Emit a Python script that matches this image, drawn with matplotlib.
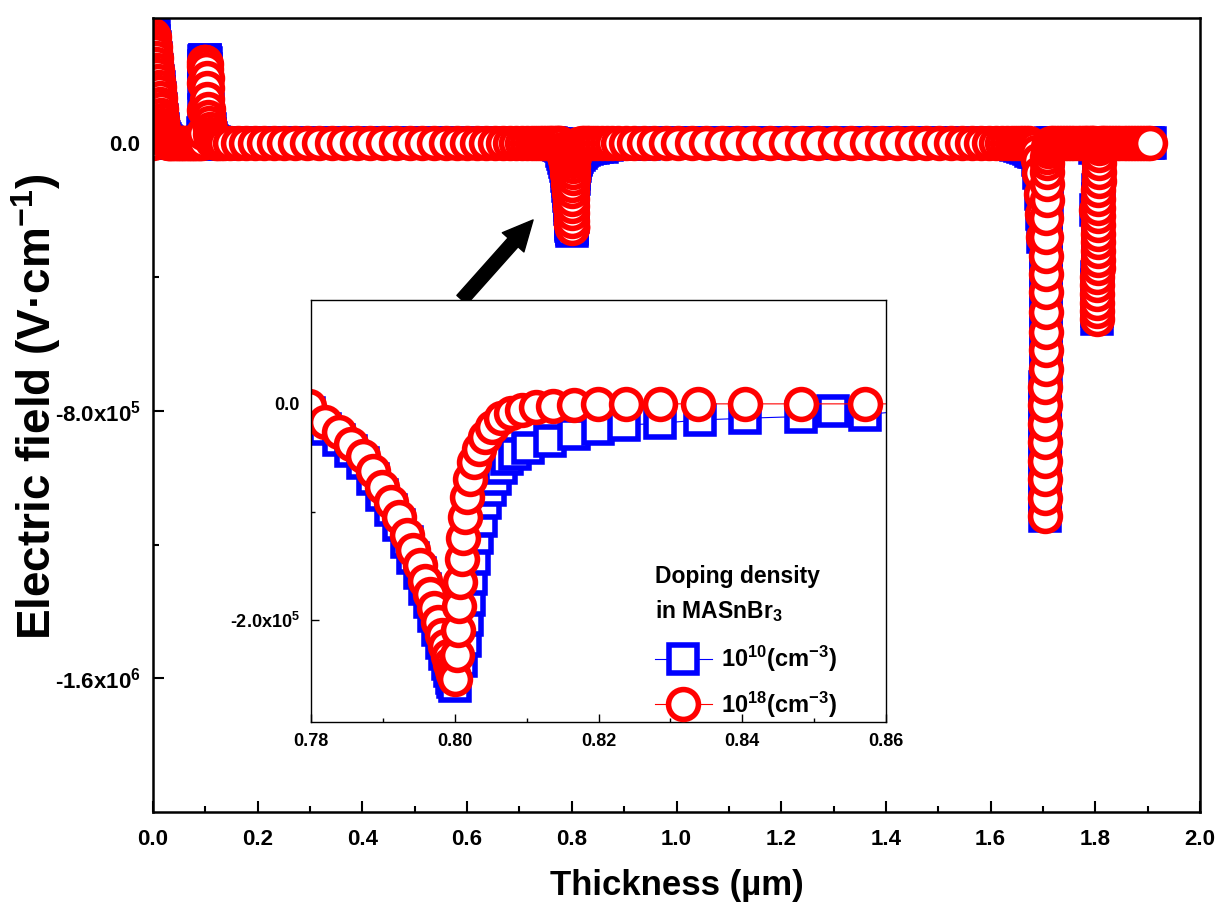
import matplotlib
matplotlib.use('Agg')
import matplotlib.pyplot as plt
import numpy as np
from matplotlib.ticker import FixedLocator, MultipleLocator, FormatStrFormatter

plt.rcParams['font.family'] = 'Liberation Sans'
plt.rcParams['font.weight'] = 'bold'
plt.rcParams['axes.labelweight'] = 'bold'
plt.rcParams['mathtext.fontset'] = 'custom'
plt.rcParams['mathtext.rm'] = 'Liberation Sans:bold'
plt.rcParams['mathtext.bf'] = 'Liberation Sans:bold'
plt.rcParams['mathtext.it'] = 'Liberation Sans:bold'
plt.rcParams['mathtext.default'] = 'bf'

# --- data: thickness in um, field in kV/cm ---
# front contact region (0 - 0.13 um), same mesh for both dopings
x_front = [0.000, 0.0005, 0.0015, 0.0025, 0.0035, 0.0045, 0.0055, 0.0065, 0.0075, 0.0085,
           0.0095, 0.0105, 0.0115, 0.0125, 0.0135, 0.0145, 0.0155, 0.0165, 0.0175, 0.0185,
           0.0195, 0.021, 0.0225, 0.024, 0.026, 0.028, 0.030, 0.033, 0.036, 0.039,
           0.042, 0.045, 0.048, 0.051, 0.054, 0.057, 0.060, 0.063, 0.066, 0.069,
           0.072, 0.075, 0.078, 0.081, 0.084, 0.087, 0.090, 0.093, 0.095, 0.0962,
           0.0968, 0.0972, 0.0976, 0.0982, 0.0990, 0.0998, 0.1006, 0.1014, 0.1022, 0.1030,
           0.1040, 0.1050, 0.1060, 0.1070, 0.1080, 0.1095, 0.111, 0.113, 0.116, 0.120,
           0.125, 0.130]
e_front_hi = [0, 325, 318, 304, 288, 272, 255, 238, 221, 204,
              187, 170, 153, 136, 119, 102, 86, 70, 56, 43,
              32, 20, 12, 7, 3.5, 1.5, 0.5, 0, 0, 0,
              0, 0, 0, 0, 0, 0, 0, 0, 0, 0,
              0, 0, 0, 0, 0, 0, 0, 1, 4, 30,
              100, 180, 232, 242, 244, 243, 238, 222, 196, 165,
              132, 104, 80, 60, 43, 28, 16, 8, 3, 1,
              0, 0]
e_front_lo = [0, 331, 320, 305, 288, 272, 255, 238, 221, 204,
              187, 170, 153, 136, 119, 102, 86, 70, 56, 43,
              32, 20, 12, 7, 3.5, 1.5, 0.5, 0, 0, 0,
              0, 0, 0, 0, 0, 0, 0, 0, 0, 0,
              0, 0, 0, 0, 0, 0, 0, 1, 4, 30,
              100, 180, 232, 246, 250, 249, 240, 222, 196, 165,
              132, 104, 80, 60, 43, 28, 16, 8, 3, 0,
              -2, -3]

# absorber bulk up to the 0.8 um interface
x_bulk1 = [0.136, 0.148, 0.162, 0.177, 0.194, 0.212, 0.231, 0.251, 0.272, 0.294,
           0.317, 0.341, 0.365, 0.390, 0.415, 0.440, 0.465, 0.490, 0.514, 0.537,
           0.559, 0.580, 0.600, 0.619, 0.637, 0.653, 0.668, 0.682, 0.694, 0.705,
           0.715, 0.724, 0.732, 0.739, 0.745, 0.751, 0.756, 0.761, 0.765, 0.769,
           0.772, 0.775, 0.7775]
e_bulk1_hi = [0.0] * len(x_bulk1)
e_bulk1_lo = [0, 0, 0, 0, 0, 0, 0, 0, 0, 0,
              0, 0, 0, 0, 0, 0, 0, 0, 0, 0,
              0, 0, 0, 0, 0, 0, 0, 0, 0, 0,
              0, 0, 0, 0, 0, 0, 0, 0, -1, -2,
              -3, -4, -5]

# dip at the 0.8 um interface (the inset)
x_dip_hi = [0.7797, 0.7819, 0.7839, 0.7855, 0.7872, 0.7886, 0.7899, 0.7911, 0.7922, 0.7933,
            0.7942, 0.7951, 0.7959, 0.7966, 0.7971, 0.7977, 0.7982, 0.7986, 0.7990, 0.7993,
            0.7996, 0.7998, 0.8000, 0.80028, 0.80039, 0.80055, 0.80072, 0.80094, 0.80111, 0.80139,
            0.80166, 0.80211, 0.80266, 0.80332, 0.80416, 0.80515, 0.80637, 0.80776, 0.80942, 0.81136,
            0.81368, 0.81662, 0.81994, 0.82382, 0.82853, 0.83379, 0.84044, 0.84820, 0.85706]
e_dip_hi = [-2, -16.5, -26, -37, -48, -62, -77, -91, -105, -121,
            -135, -149, -164, -176, -189, -202, -214, -224, -233, -240,
            -246, -250, -254, -232, -209, -187, -165, -143, -124, -105,
            -86, -69, -54, -42, -31, -21, -13, -8.5, -5.4, -3,
            -1.6, -0.6, 0, 0, 0, 0, 0, 0, 0]
x_dip_lo = [0.7797, 0.7819, 0.7839, 0.7855, 0.7872, 0.7886, 0.7899, 0.7911, 0.7922, 0.7933,
            0.7942, 0.7951, 0.7959, 0.7966, 0.7971, 0.7977, 0.7982, 0.7986, 0.7990, 0.7993,
            0.7996, 0.7998, 0.8000, 0.80083, 0.80139, 0.80166, 0.80194, 0.80222, 0.80266, 0.80305,
            0.80360, 0.80416, 0.80488, 0.80565, 0.80637, 0.80720, 0.80831, 0.81025, 0.81330, 0.81662,
            0.81994, 0.82354, 0.82853, 0.83407, 0.84044, 0.84820, 0.85263, 0.85706]
e_dip_lo = [-8, -23, -33, -44, -55, -69, -84, -98, -112, -128,
            -142, -156, -171, -183, -196, -209, -221, -231, -240, -247,
            -253, -257, -261, -238, -219, -200, -181, -162, -143, -124,
            -108, -92, -80, -69, -59, -51, -46.5, -41, -34, -27.5,
            -23, -19.6, -18, -14.9, -13.3, -11.7, -6.3, -10]

# bulk between 0.86 and 1.68 um
x_bulk2 = [0.8665, 0.877, 0.889, 0.903, 0.919, 0.937, 0.957, 0.979, 1.003, 1.029,
           1.057, 1.086, 1.116, 1.147, 1.178, 1.209, 1.240, 1.271, 1.302, 1.333,
           1.363, 1.393, 1.422, 1.450, 1.477, 1.502, 1.525, 1.546, 1.565, 1.582,
           1.597, 1.610, 1.622, 1.632, 1.641, 1.649, 1.656, 1.662, 1.668, 1.673,
           1.678, 1.682]
e_bulk2_hi = [0, 0, 0, 0, 0, 0, 0, 0, 0, 0,
              0, 0, 0, 0, 0, 0, 0, 0, 0, 0,
              0, 0, 0, 0, 0, 0, 0, 0, 0, 0,
              0, 0, 0, 0, 0, 0, 0, 0, 0, 0,
              -5, -12]
e_bulk2_lo = [-4, -3, -2, -1.5, -1, -0.5, 0, 0, 0, 0,
              0, 0, 0, 0, 0, 0, 0, 0, 0, 0,
              0, 0, 0, 0, 0, 0, 0, 0, 0, 0,
              0, 0, 0, 0, -3, -6, -9, -12, -15, -18,
              -22, -26]

# deep well at 1.70 um
x_well1 = [1.686, 1.690, 1.693, 1.696, 1.698, 1.6995, 1.7030, 1.7034,
           1.7037, 1.7040, 1.7042, 1.7044, 1.7046, 1.7048, 1.7050, 1.7052, 1.7054, 1.7056,
           1.7058, 1.7060, 1.7062, 1.7064, 1.7066, 1.7068, 1.7070, 1.7073, 1.7077, 1.7082,
           1.7090, 1.710, 1.712, 1.715]
e_well1 = [-25, -50, -90, -150, -210, -280, -1115, -1062,
           -1004, -950, -892, -838, -784, -730, -676, -618, -563, -504,
           -446, -392, -338, -279, -224, -170, -120, -86, -60, -40,
           -22, -10, -3, 0]

# region between the two wells
x_mid = [1.719, 1.724, 1.730, 1.736, 1.742, 1.748, 1.754, 1.760, 1.766, 1.772,
         1.778, 1.783, 1.787, 1.791, 1.794, 1.797]
e_mid = [0.0] * len(x_mid)

# shallower well at 1.80 um
x_well2 = [1.800, 1.802, 1.8030, 1.8032, 1.8034, 1.8036, 1.8038, 1.8040, 1.8042, 1.8044,
           1.8046, 1.8048, 1.8050, 1.8052, 1.8054, 1.8056, 1.8058, 1.8060, 1.8062, 1.8064,
           1.8067, 1.8070, 1.8074, 1.8080, 1.809, 1.811, 1.814]
e_well2 = [-15, -200, -525, -500, -476, -451, -425, -400, -374, -348,
           -322, -296, -270, -244, -218, -192, -166, -140, -113, -87,
           -60, -35, -15, -5, -2, 0, 0]

# back contact region
x_back = [1.818, 1.824, 1.830, 1.836, 1.842, 1.848, 1.854, 1.860, 1.866, 1.872,
          1.878, 1.884, 1.890, 1.895, 1.900, 1.905]
e_back = [0.0] * len(x_back)

thick_lo = x_front + x_bulk1 + x_dip_lo + x_bulk2 + x_well1 + x_mid + x_well2 + x_back
field_lo = np.array(e_front_lo + e_bulk1_lo + e_dip_lo + e_bulk2_lo + e_well1
                    + e_mid + e_well2 + e_back) * 1e3
thick_hi = x_front + x_bulk1 + x_dip_hi + x_bulk2 + x_well1 + x_mid + x_well2 + x_back
field_hi = np.array(e_front_hi + e_bulk1_hi + e_dip_hi + e_bulk2_hi + e_well1
                    + e_mid + e_well2 + e_back) * 1e3

labels = ['10$^{10}$(cm$^{-3}$)', '10$^{18}$(cm$^{-3}$)']


def draw_curves(ax):
    l1, = ax.plot(thick_lo, field_lo, color='blue', lw=0.8, marker='s', ms=20,
                  mfc='white', mec='blue', mew=4)
    l2, = ax.plot(thick_hi, field_hi, color='red', lw=0.8, marker='o', ms=21.5,
                  mfc='white', mec='red', mew=4)
    return l1, l2


fig = plt.figure(figsize=(12.28, 9.11), dpi=100)

# main plot
ax = fig.add_axes([0.1246, 0.1087, 0.8526, 0.8715])
draw_curves(ax)
ax.set_xlim(0, 2.0)
ax.set_ylim(-2.0e6, 3.75e5)
ax.xaxis.set_major_locator(MultipleLocator(0.2))
ax.xaxis.set_minor_locator(MultipleLocator(0.1))
ax.xaxis.set_major_formatter(FormatStrFormatter('%.1f'))
ax.set_yticks([0, -8e5, -1.6e6])
ax.set_yticklabels(['0.0', '-8.0x10$^5$', '-1.6x10$^6$'])
ax.yaxis.set_minor_locator(FixedLocator([-4e5, -1.2e6]))
ax.tick_params(which='both', direction='in', top=False, right=False, width=1.5,
               labelsize=16)
ax.tick_params(which='major', length=8)
ax.tick_params(which='minor', length=4)
ax.tick_params(axis='x', pad=12)
ax.tick_params(axis='y', pad=9)
for s in ax.spines.values():
    s.set_linewidth(1.8)
ax.set_xlabel('Thickness (µm)', fontsize=25, labelpad=14)
ax.set_ylabel('Electric field (V·cm$^{-1}$)', fontsize=33)
ax.yaxis.set_label_coords(-0.086, 0.51)

# arrow pointing from inset to the 0.8 um dip
ax.annotate('', xy=(0.726, -2.29e5), xytext=(0.590, -4.68e5),
            arrowprops=dict(arrowstyle='simple,head_length=1.35,head_width=1.3,tail_width=0.6',
                            color='black', shrinkA=0, shrinkB=0, mutation_scale=16))

# inset zoom on the 0.8 um interface
ax_in = fig.add_axes([0.2533, 0.2075, 0.4682, 0.4632])
l1, l2 = draw_curves(ax_in)
ax_in.set_xlim(0.78, 0.86)
ax_in.set_ylim(-2.94e5, 0.96e5)
ax_in.xaxis.set_major_locator(MultipleLocator(0.02))
ax_in.xaxis.set_minor_locator(MultipleLocator(0.01))
ax_in.xaxis.set_major_formatter(FormatStrFormatter('%.2f'))
ax_in.set_yticks([0, -2e5])
ax_in.set_yticklabels(['0.0', '-2.0x10$^5$'])
ax_in.yaxis.set_minor_locator(FixedLocator([-1e5]))
ax_in.tick_params(which='both', direction='in', top=False, right=False, width=1,
                  labelsize=13)
ax_in.tick_params(which='major', length=6)
ax_in.tick_params(which='minor', length=3)
ax_in.tick_params(axis='x', pad=8)
ax_in.tick_params(axis='y', pad=8)
for s in ax_in.spines.values():
    s.set_linewidth(1.0)

# legend title written as its own text block, entries below it
ax_in.text(0.598, 0.372, 'Doping density\nin MASnBr$_3$', transform=ax_in.transAxes,
           ha='left', va='top', fontsize=16.5, fontweight='bold', linespacing=1.5)
leg = ax_in.legend([l1, l2], labels, loc='lower left', bbox_to_anchor=(0.598, 0.005),
                   frameon=False, fontsize=17, handlelength=2.4, numpoints=1,
                   labelspacing=0.65, handletextpad=0.4, borderaxespad=0, borderpad=0)

fig.savefig('out.png', dpi=100)
